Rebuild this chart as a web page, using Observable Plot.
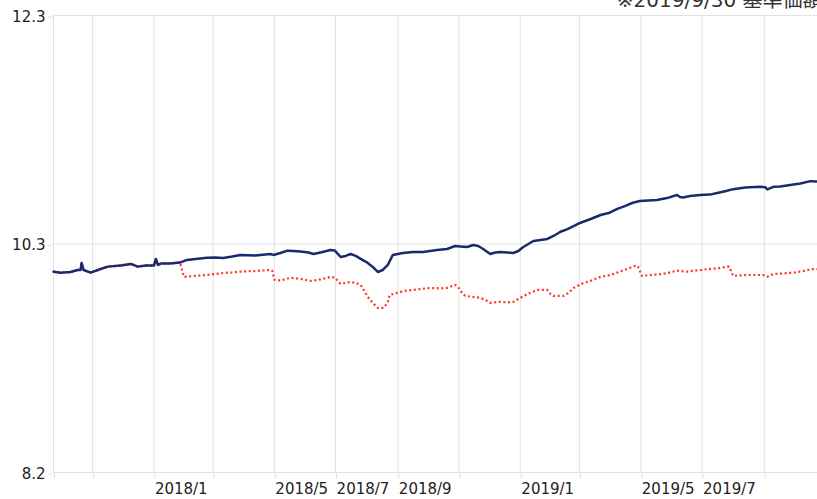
<!DOCTYPE html>
<html>
<head>
<meta charset="utf-8">
<script src="https://cdn.jsdelivr.net/npm/d3@7"></script>
<script src="https://cdn.jsdelivr.net/npm/@observablehq/plot@0.6"></script>
<style>
html, body { margin: 0; padding: 0; background: #fff; overflow: hidden; }
#chart { width: 817px; height: 499px; overflow: hidden; }
</style>
</head>
<body>
<div id="chart"></div>
<script>
// ---- data ----
const navyDates = [
  "2017-09-23","2017-09-30","2017-10-10","2017-10-17","2017-10-20","2017-10-21","2017-10-23","2017-10-30","2017-11-09","2017-11-16",
  "2017-11-29","2017-12-09","2017-12-16","2017-12-24","2018-01-01","2018-01-03","2018-01-05","2018-01-08","2018-01-17","2018-01-27",
  "2018-02-03","2018-02-16","2018-02-23","2018-03-03","2018-03-11","2018-03-20","2018-03-28","2018-04-12","2018-04-27","2018-04-30",
  "2018-05-07","2018-05-14","2018-05-20","2018-05-27","2018-06-04","2018-06-09","2018-06-16","2018-06-26","2018-06-30","2018-07-06",
  "2018-07-11","2018-07-16","2018-07-21","2018-07-26","2018-08-02","2018-08-07","2018-08-12","2018-08-17","2018-08-22","2018-08-27",
  "2018-09-01","2018-09-06","2018-09-16","2018-09-26","2018-10-03","2018-10-10","2018-10-20","2018-10-28","2018-11-02","2018-11-09",
  "2018-11-15","2018-11-20","2018-11-25","2018-12-02","2018-12-07","2018-12-12","2018-12-19","2018-12-25","2018-12-30","2019-01-04",
  "2019-01-09","2019-01-14","2019-01-21","2019-01-28","2019-02-03","2019-02-10","2019-02-17","2019-02-23","2019-03-02","2019-03-12",
  "2019-03-22","2019-03-30","2019-04-07","2019-04-15","2019-04-23","2019-04-30","2019-05-17","2019-05-27","2019-06-06","2019-06-09",
  "2019-06-12","2019-06-19","2019-06-29","2019-07-09","2019-07-16","2019-07-24","2019-08-01","2019-08-13","2019-08-28","2019-09-02",
  "2019-09-04","2019-09-10","2019-09-17","2019-09-30","2019-10-07","2019-10-17","2019-10-24"
];
const navyValues = [
  10.002, 9.993, 9.999, 10.017, 10.017, 10.080, 10.017, 9.993, 10.026, 10.047,
  10.058, 10.071, 10.047, 10.058, 10.056, 10.116, 10.062, 10.075, 10.075, 10.083,
  10.107, 10.120, 10.127, 10.129, 10.125, 10.138, 10.152, 10.147, 10.160, 10.152,
  10.169, 10.190, 10.187, 10.183, 10.174, 10.160, 10.174, 10.196, 10.192, 10.134,
  10.143, 10.160, 10.143, 10.116, 10.080, 10.044, 9.999, 10.017, 10.062, 10.152,
  10.160, 10.169, 10.178, 10.178, 10.187, 10.196, 10.205, 10.232, 10.228, 10.223,
  10.241, 10.232, 10.205, 10.160, 10.174, 10.178, 10.174, 10.169, 10.187, 10.223,
  10.250, 10.277, 10.286, 10.295, 10.322, 10.360, 10.384, 10.411, 10.441, 10.474,
  10.510, 10.528, 10.563, 10.590, 10.620, 10.635, 10.644, 10.662, 10.689, 10.671,
  10.668, 10.680, 10.689, 10.693, 10.707, 10.724, 10.742, 10.756, 10.763, 10.760,
  10.740, 10.763, 10.765, 10.784, 10.792, 10.814, 10.811
];
const redDates = [
  "2017-09-23","2017-09-30","2017-10-10","2017-10-17","2017-10-20","2017-10-21","2017-10-23","2017-10-30","2017-11-09","2017-11-16",
  "2017-11-29","2017-12-09","2017-12-16","2017-12-24","2018-01-01","2018-01-03","2018-01-05","2018-01-08","2018-01-17","2018-01-27",
  "2018-01-29","2018-01-31","2018-02-11","2018-02-23","2018-03-03","2018-03-11","2018-03-20","2018-03-28","2018-04-12","2018-04-27",
  "2018-04-29","2018-05-01","2018-05-07","2018-05-17","2018-05-27","2018-06-06","2018-06-16","2018-06-26","2018-06-30","2018-07-04",
  "2018-07-06","2018-07-16","2018-07-21","2018-07-26","2018-07-29","2018-08-02","2018-08-07","2018-08-12","2018-08-18","2018-08-22",
  "2018-08-24","2018-08-31","2018-09-08","2018-09-16","2018-10-03","2018-10-13","2018-10-20","2018-10-28","2018-10-31","2018-11-04",
  "2018-11-07","2018-11-14","2018-11-22","2018-11-27","2018-12-02","2018-12-12","2018-12-19","2018-12-25","2019-01-01","2019-01-08",
  "2019-01-18","2019-01-28","2019-01-31","2019-02-03","2019-02-13","2019-02-18","2019-02-23","2019-03-05","2019-03-12","2019-03-22",
  "2019-04-01","2019-04-10","2019-04-20","2019-04-25","2019-04-28","2019-05-02","2019-05-10","2019-05-20","2019-05-28","2019-06-06",
  "2019-06-16","2019-06-26","2019-07-06","2019-07-16","2019-07-26","2019-07-28","2019-08-01","2019-08-15","2019-08-31","2019-09-04",
  "2019-09-10","2019-09-20","2019-09-30","2019-10-10","2019-10-17","2019-10-24"
];
const redValues = [
  10.002, 9.993, 9.999, 10.017, 10.017, 10.080, 10.017, 9.993, 10.026, 10.047,
  10.058, 10.071, 10.047, 10.058, 10.056, 10.116, 10.062, 10.075, 10.075, 10.083,
  10.017, 9.955, 9.964, 9.972, 9.981, 9.990, 9.995, 10.002, 10.008, 10.017,
  10.008, 9.928, 9.923, 9.946, 9.937, 9.919, 9.932, 9.955, 9.950, 9.910,
  9.892, 9.910, 9.901, 9.883, 9.838, 9.776, 9.722, 9.677, 9.677, 9.731,
  9.793, 9.811, 9.829, 9.838, 9.856, 9.852, 9.856, 9.883, 9.865, 9.811,
  9.785, 9.776, 9.767, 9.749, 9.722, 9.731, 9.726, 9.731, 9.767, 9.802,
  9.838, 9.838, 9.802, 9.785, 9.785, 9.811, 9.856, 9.901, 9.919, 9.955,
  9.972, 10.002, 10.035, 10.053, 10.053, 9.964, 9.972, 9.979, 9.990, 10.011,
  10.002, 10.013, 10.024, 10.031, 10.047, 10.047, 9.964, 9.972, 9.972, 9.957,
  9.981, 9.986, 9.993, 10.008, 10.024, 10.024
];
const xDomain = ["2017-09-23", "2019-10-24"];
const gridDates = ["2017-11-01","2018-01-01","2018-03-01","2018-05-01","2018-07-01","2018-09-01",
                   "2018-11-01","2019-01-01","2019-03-01","2019-05-01","2019-07-01","2019-09-01"];
const xLabelDates = ["2018-01-01","2018-05-01","2018-07-01","2018-09-01","2019-01-01","2019-05-01","2019-07-01"];
const xLabels = ["2018/1","2018/5","2018/7","2018/9","2019/1","2019/5","2019/7"];
const yTickValues = [8.2, 10.25, 12.3];
const yTickLabels = ["8.2", "10.3", "12.3"];
const note = "※2019/9/30 基準価額";

// ---- build ----
const parse = s => new Date(s + "T00:00:00Z");
const navy = navyDates.map((d, i) => ({date: parse(d), value: navyValues[i]}));
const red = redDates.map((d, i) => ({date: parse(d), value: redValues[i]}));
const tickDates = [xDomain[0], ...gridDates].map(parse);
const labelFor = d => {
  const k = xLabelDates.map(parse).findIndex(t => +t === +d);
  return k >= 0 ? xLabels[k] : "";
};
const grid = "#e2e2e2";
const font = "'DejaVu Sans', Verdana, sans-serif";

const chart = Plot.plot({
  width: 817,
  height: 499,
  marginLeft: 53,
  marginRight: 0,
  marginTop: 15,
  marginBottom: 27,
  style: {fontFamily: font, fontSize: "15px", background: "#fff", color: "#222", overflow: "hidden"},
  x: {type: "utc", domain: xDomain.map(parse), label: null},
  y: {domain: [8.2, 12.3], label: null},
  marks: [
    Plot.ruleY(yTickValues, {stroke: grid}),
    Plot.ruleX([xDomain[0], ...gridDates].map(parse), {stroke: grid}),
    Plot.axisY({ticks: yTickValues, tickFormat: d => yTickLabels[yTickValues.indexOf(d)],
      tickSize: 5, tickPadding: 3, stroke: grid, fill: "#222", dy: 1.5, fontSize: 15, label: null}),
    Plot.axisX({ticks: tickDates, tickFormat: labelFor, tickSize: 6, tickPadding: 5,
      stroke: grid, fill: "#222", textAnchor: "start", dx: 1, fontSize: 15, label: null}),
    Plot.line(red, {x: "date", y: "value", stroke: "#ff3322", strokeWidth: 2.2,
      strokeDasharray: "2,2.6", strokeLinecap: "butt", strokeLinejoin: "miter"}),
    Plot.line(navy, {x: "date", y: "value", stroke: "#1c2a6c", strokeWidth: 2.5}),
    Plot.text([note], {frameAnchor: "top-right", dy: -15, dx: 5, textAnchor: "end", lineAnchor: "middle",
      fontSize: 20, fill: "#333", fontFamily: "'DejaVu Sans', 'Noto Sans CJK JP', sans-serif"})
  ]
});
document.getElementById("chart").appendChild(chart);
</script>
</body>
</html>
